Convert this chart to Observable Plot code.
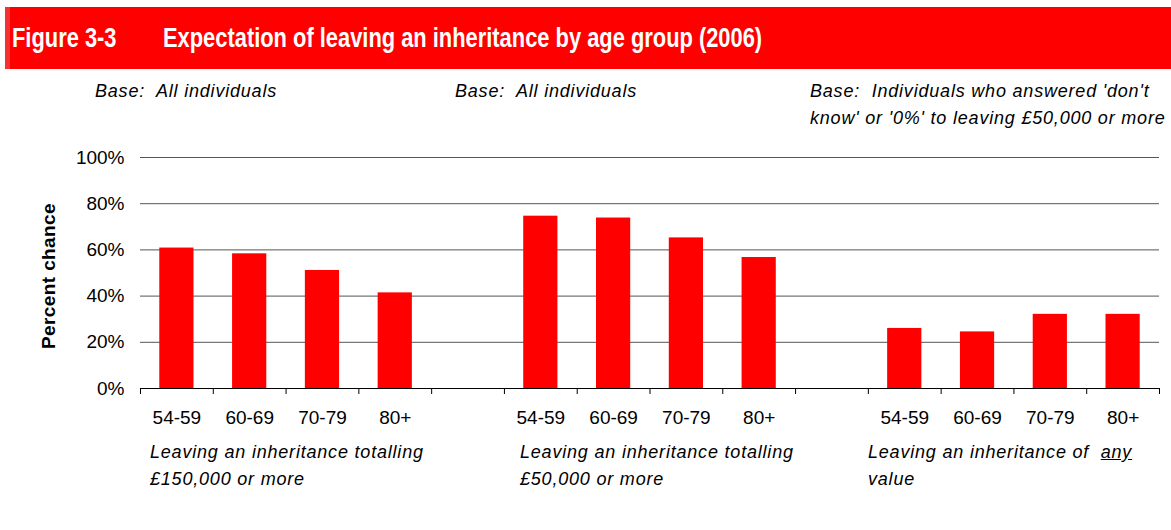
<!DOCTYPE html>
<html>
<head>
<meta charset="utf-8">
<script src="https://cdn.jsdelivr.net/npm/d3@7"></script>
<script src="https://cdn.jsdelivr.net/npm/@observablehq/plot@0.6"></script>
<style>
  html, body { margin: 0; padding: 0; background: #fff; }
  #fig { position: relative; width: 1171px; height: 530px; overflow: hidden;
         font-family: "Liberation Sans", Arial, sans-serif; color: #000; }
  .bar { position: absolute; left: 5px; top: 7px; width: 1166px; height: 62px;
         background: #FF0000; border-left: 5px solid #F43030; box-sizing: border-box; }
  .ttl { position: absolute; top: 7px; line-height: 62px; color: #fff; font-size: 27px; font-weight: bold;
         font-family: "Liberation Sans", Arial, sans-serif; transform: scaleX(0.81); transform-origin: left center;
         white-space: nowrap; }
  .note { position: absolute; font-style: italic; font-size: 18px; letter-spacing: 0.8px; line-height: 27px; white-space: nowrap; }
  #chart { position: absolute; left: 0; top: 140px; }
  .ylab { position: absolute; left: 49px; top: 276px; transform: translate(-50%, -50%) rotate(-90deg);
          font-weight: bold; font-size: 19px; letter-spacing: 0.4px; white-space: nowrap; }
</style>
</head>
<body>
<div id="fig">
  <div class="bar"></div>
  <div class="ttl" style="left:12px">Figure 3-3</div>
  <div class="ttl" style="left:163px">Expectation of leaving an inheritance by age group (2006)</div>

  <div class="note" style="left:95px; top:78px">Base:&nbsp; All individuals</div>
  <div class="note" style="left:455px; top:78px">Base:&nbsp; All individuals</div>
  <div class="note" style="left:810px; top:78px">Base:&nbsp; Individuals who answered 'don't<br>know' or '0%' to leaving £50,000 or more</div>

  <div class="ylab">Percent chance</div>
  <div id="chart"></div>

  <div class="note" style="left:150px; top:439px">Leaving an inheritance totalling<br>£150,000 or more</div>
  <div class="note" style="left:520px; top:439px">Leaving an inheritance totalling<br>£50,000 or more</div>
  <div class="note" style="left:868px; top:439px">Leaving an inheritance of&nbsp; <u>any</u><br>value</div>
</div>
<script>
// ---- data ----
const ageGroups = ["54-59", "60-69", "70-79", "80+"];
const panels = ["£150,000+", "£50,000+", "Any value"];
const valuesOver150k = [60.8, 58.3, 51.1, 41.4];
const valuesOver50k = [74.6, 73.8, 65.2, 56.7];
const valuesAnyValue = [26.0, 24.5, 32.1, 32.1];
const yTicks = [0, 20, 40, 60, 80, 100];

// build table
const series = [valuesOver150k, valuesOver50k, valuesAnyValue];
const data = [];
const domain = [];
panels.forEach((p, i) => {
  ageGroups.forEach((a, j) => {
    const key = p + "|" + a;
    domain.push(key);
    data.push({key, panel: p, age: a, value: series[i][j]});
  });
  if (i < panels.length - 1) domain.push("gap" + i);
});

const W = 1171, ML = 140, MR = 12;
const step = (W - ML - MR) / domain.length;

const chart = Plot.plot({
  width: W,
  height: 300,
  marginLeft: ML,
  marginRight: MR,
  marginTop: 17,
  marginBottom: 52,
  style: {fontFamily: "'Liberation Sans', Arial, sans-serif", fontSize: "19px", color: "#000", background: "transparent", overflow: "visible"},
  x: {domain, paddingInner: 0.53, paddingOuter: 0.265, round: false, axis: null},
  y: {domain: [0, 100], axis: null},
  marks: [
    Plot.ruleY(yTicks.filter(d => d > 0), {stroke: "#555", strokeWidth: 1}),
    Plot.barY(data, {x: "key", y: "value", fill: "#FF0000"}),
    Plot.ruleY([0], {stroke: "#000", strokeWidth: 1}),
    Plot.axisY({ticks: yTicks, tickFormat: d => d + "%", tickSize: 0, tickPadding: 16, label: null}),
    Plot.axisX({tickSize: 0, tickPadding: 22, label: null,
                tickFormat: d => d.includes("|") ? d.split("|")[1] : ""}),
    Plot.axisX({tickSize: 6, tickFormat: () => "", label: null, dx: step / 2, stroke: "#000"}),
    Plot.axisX({ticks: [domain[0]], tickSize: 6, tickFormat: () => "", label: null, dx: -step / 2, stroke: "#000"})
  ]
});
document.getElementById("chart").appendChild(chart);
</script>
</body>
</html>
